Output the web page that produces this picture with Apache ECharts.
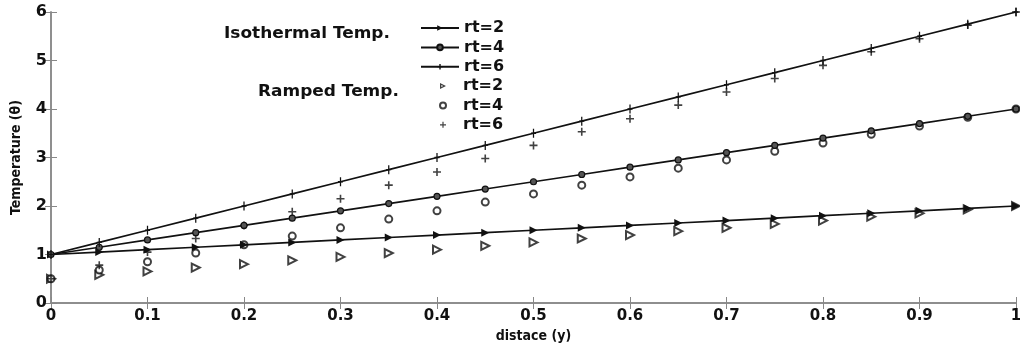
<!DOCTYPE html>
<html>
<head>
<meta charset="utf-8">
<script src="https://cdn.jsdelivr.net/npm/echarts@6/dist/echarts.min.js"></script>
<style>
  html, body { margin: 0; padding: 0; background: #fff; }
  #chart { width: 1020px; height: 343px; }
</style>
</head>
<body>
<div id="chart"></div>
<script>
// distance y
const xs = [0, 0.05, 0.1, 0.15, 0.2, 0.25, 0.3, 0.35, 0.4, 0.45, 0.5, 0.55, 0.6, 0.65, 0.7, 0.75, 0.8, 0.85, 0.9, 0.95, 1];

// isothermal temperature
const iso2 = [1, 1.05, 1.1, 1.15, 1.2, 1.25, 1.3, 1.35, 1.4, 1.45, 1.5, 1.55, 1.6, 1.65, 1.7, 1.75, 1.8, 1.85, 1.9, 1.95, 2];
const iso4 = [1, 1.15, 1.3, 1.45, 1.6, 1.75, 1.9, 2.05, 2.2, 2.35, 2.5, 2.65, 2.8, 2.95, 3.1, 3.25, 3.4, 3.55, 3.7, 3.85, 4];
const iso6 = [1, 1.25, 1.5, 1.75, 2, 2.25, 2.5, 2.75, 3, 3.25, 3.5, 3.75, 4, 4.25, 4.5, 4.75, 5, 5.25, 5.5, 5.75, 6];

// ramped temperature
const ramp2 = [0.5, 0.58, 0.65, 0.73, 0.8, 0.88, 0.95, 1.03, 1.1, 1.18, 1.25, 1.33, 1.4, 1.48, 1.55, 1.63, 1.7, 1.78, 1.85, 1.93, 2];
const ramp4 = [0.5, 0.68, 0.85, 1.03, 1.2, 1.38, 1.55, 1.73, 1.9, 2.08, 2.25, 2.43, 2.6, 2.78, 2.95, 3.13, 3.3, 3.48, 3.65, 3.83, 4];
const ramp6 = [0.5, 0.78, 1.05, 1.33, 1.6, 1.88, 2.15, 2.43, 2.7, 2.98, 3.25, 3.53, 3.8, 4.08, 4.35, 4.63, 4.9, 5.18, 5.45, 5.73, 6];

const legendLabels = { iso2: 'rt=2', iso4: 'rt=4', iso6: 'rt=6', ramp2: 'rt=2', ramp4: 'rt=4', ramp6: 'rt=6' };

const pairs = (ys) => xs.map((x, i) => [x, ys[i]]);

const plus = 'path://M4,0H6V4H10V6H6V10H4V6H0V4H4Z';
const tick = 'path://M1.5,0H2.5V3H4V4H2.5V7H1.5V4H0V3H1.5Z';
// hollow right-pointing triangle, only for the legend
const triRight = 'path://M0,0L10,5L0,10Z M2.2,3.4L2.2,6.6L5.4,5Z';

const chart = echarts.init(document.getElementById('chart'));

const axisGrey = { lineStyle: { color: '#888', width: 1.5 } };
const legendText = { fontFamily: 'DejaVu Sans', fontWeight: 'bold', fontSize: 16, color: '#111' };

chart.setOption({
  animation: false,
  grid: { left: 51, right: 4, top: 12, bottom: 40, outerBoundsMode: 'none' },
  legend: [{
    left: 415, top: 15, orient: 'vertical',
    itemWidth: 38, itemHeight: 7, itemGap: 3.4,
    data: ['iso2', 'iso4', 'iso6'],
    formatter: (n) => legendLabels[n],
    textStyle: legendText
  }, {
    left: 434, top: 73, orient: 'vertical',
    itemWidth: 6, itemHeight: 6, itemGap: 3.4,
    data: [{ name: 'ramp2', icon: triRight }, 'ramp4', 'ramp6'],
    formatter: (n) => legendLabels[n],
    textStyle: Object.assign({}, legendText, { padding: [0, 0, 0, 12] })
  }],
  graphic: [
    { type: 'text', left: 224, top: 27, scaleX: 1.13, style: { text: 'Isothermal Temp.', font: 'bold 15px "DejaVu Sans"', fill: '#111' } },
    { type: 'text', left: 258, top: 85, scaleX: 1.13, style: { text: 'Ramped Temp.', font: 'bold 15px "DejaVu Sans"', fill: '#111' } }
  ],
  xAxis: [{
    type: 'value', min: 0, max: 1, interval: 0.1,
    name: 'distace (y)', nameLocation: 'middle', nameGap: 21,
    nameTextStyle: { fontFamily: 'DejaVu Sans Condensed', fontWeight: 'bold', fontSize: 14, color: '#111' },
    axisLine: axisGrey,
    axisTick: { inside: true, length: 6, lineStyle: { color: '#888' } },
    axisLabel: { margin: 6, fontFamily: 'DejaVu Sans', fontWeight: 'bold', fontSize: 15, color: '#111',
      formatter: (v) => String(Math.round(v * 10) / 10) },
    splitLine: { show: false }
  }, {
    type: 'value', min: 0, max: 1, interval: 0.1, position: 'top',
    axisLine: axisGrey,
    axisTick: { inside: true, length: 6, lineStyle: { color: '#888' } },
    axisLabel: { show: false }, splitLine: { show: false }
  }],
  yAxis: [{
    type: 'value', min: 0, max: 6, interval: 1,
    name: 'Temperature (θ)', nameLocation: 'middle', nameGap: 28,
    nameTextStyle: { fontFamily: 'DejaVu Sans Condensed', fontWeight: 'bold', fontSize: 14, color: '#111' },
    axisLine: { show: true, lineStyle: { color: '#888', width: 1.5 } },
    axisTick: { show: true, inside: true, length: 6, lineStyle: { color: '#888' } },
    axisLabel: { margin: 4, fontFamily: 'DejaVu Sans', fontWeight: 'bold', fontSize: 16, color: '#111' },
    splitLine: { show: false }
  }, {
    type: 'value', min: 0, max: 6, interval: 1, position: 'right',
    axisLine: { show: true, lineStyle: { color: '#888', width: 1.5 } },
    axisTick: { show: true, inside: true, length: 6, lineStyle: { color: '#888' } },
    axisLabel: { show: false }, splitLine: { show: false }
  }],
  series: [
    { name: 'iso2', type: 'line', data: pairs(iso2), symbol: 'triangle', symbolRotate: -90, symbolSize: 8,
      lineStyle: { color: '#111', width: 1.7 }, itemStyle: { color: '#111' } },
    { name: 'iso4', type: 'line', data: pairs(iso4), symbol: 'circle', symbolSize: 6,
      lineStyle: { color: '#111', width: 1.7 }, itemStyle: { color: '#555', borderColor: '#111', borderWidth: 1.2 } },
    { name: 'iso6', type: 'line', data: pairs(iso6), symbol: tick, symbolSize: [5, 9],
      lineStyle: { color: '#111', width: 1.7 }, itemStyle: { color: '#111' } },
    { name: 'ramp2', type: 'scatter', data: pairs(ramp2), symbol: 'emptyTriangle', symbolRotate: -90, symbolSize: 8,
      itemStyle: { color: '#111', borderWidth: 1.6 } },
    { name: 'ramp4', type: 'scatter', data: pairs(ramp4), symbol: 'emptyCircle', symbolSize: 7,
      itemStyle: { color: '#111', borderWidth: 1.6 } },
    { name: 'ramp6', type: 'scatter', data: pairs(ramp6), symbol: plus, symbolSize: 8,
      itemStyle: { color: '#111' } }
  ]
});
</script>
</body>
</html>
